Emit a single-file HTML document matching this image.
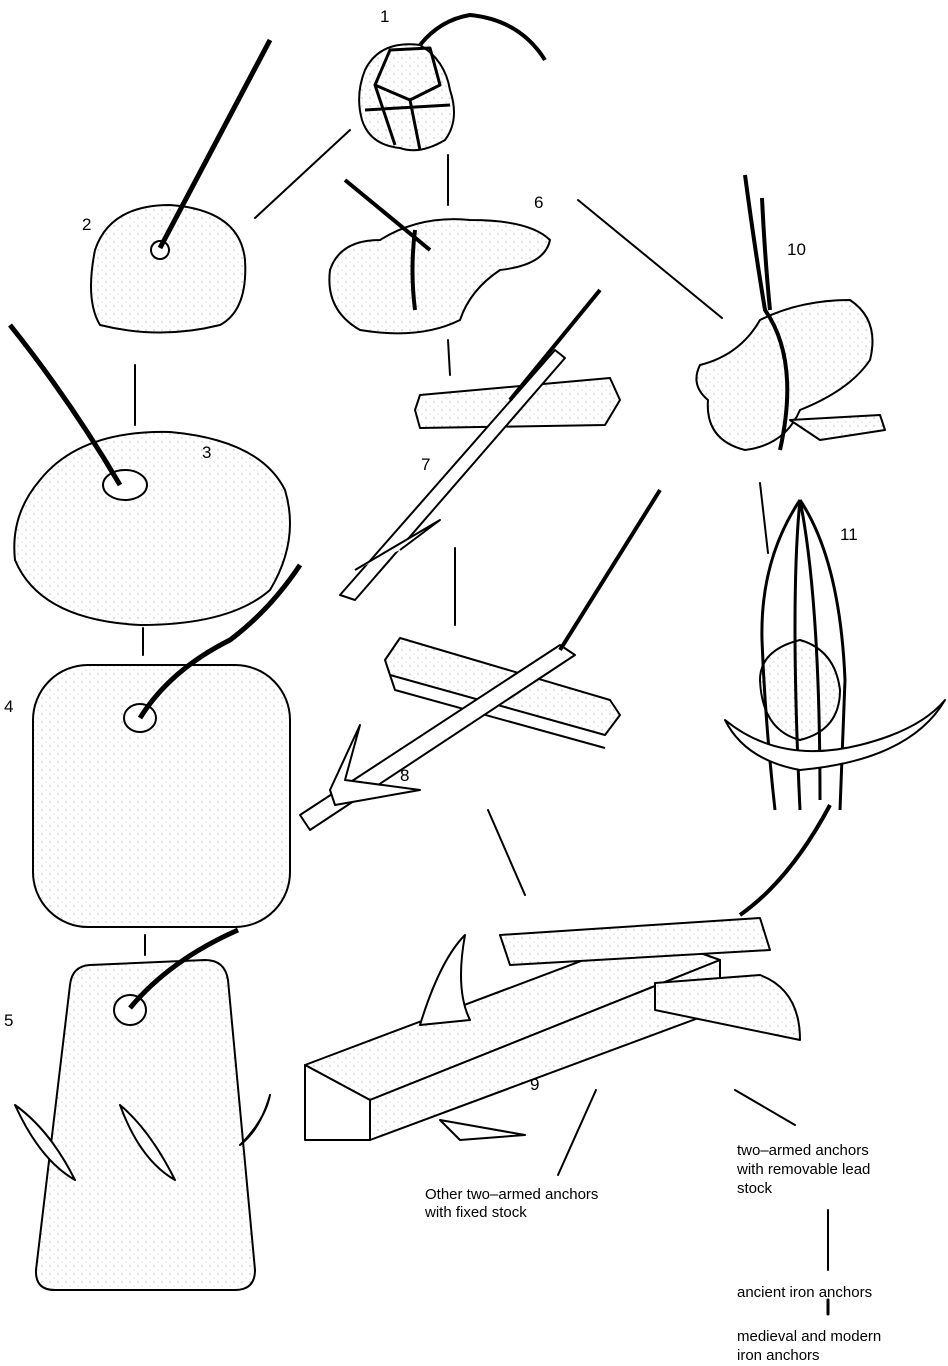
<!DOCTYPE html>
<html><head><meta charset="utf-8"><style>
html,body{margin:0;padding:0;background:#fff;}
svg{display:block;}
text{font-family:"Liberation Sans",sans-serif;fill:#000;}
</style></head><body>
<svg width="948" height="1366" viewBox="0 0 948 1366" xmlns="http://www.w3.org/2000/svg">
<defs>
<pattern id="st" width="8" height="8" patternUnits="userSpaceOnUse">
<rect width="8" height="8" fill="#fff"/><circle cx="2" cy="2" r="0.6" fill="#999"/><circle cx="6" cy="6" r="0.5" fill="#aaa"/>
</pattern>
</defs>
<g stroke="#000" stroke-width="2" fill="none" stroke-linecap="round">
<line x1="255" y1="218" x2="350" y2="130"/>
<line x1="448" y1="155" x2="448" y2="205"/>
<line x1="448" y1="340" x2="450" y2="375"/>
<line x1="135" y1="365" x2="135" y2="425"/>
<line x1="143" y1="628" x2="143" y2="655"/>
<line x1="145" y1="935" x2="145" y2="955"/>
<line x1="455" y1="548" x2="455" y2="625"/>
<line x1="488" y1="810" x2="525" y2="895"/>
<line x1="578" y1="200" x2="722" y2="318"/>
<line x1="760" y1="483" x2="768" y2="553"/>
<line x1="596" y1="1090" x2="558" y2="1175"/>
<line x1="735" y1="1090" x2="795" y2="1125"/>
<line x1="828" y1="1210" x2="828" y2="1270"/>
<line x1="828" y1="1300" x2="828" y2="1314" stroke-width="3"/>
</g>
<g stroke="#000" stroke-width="2" fill="url(#st)" stroke-linejoin="round">
<path d="M365 70 Q380 40 420 45 Q445 60 450 90 Q460 120 445 140 Q420 155 400 148 Q370 145 362 120 Q355 95 365 70Z"/>
<path d="M390 50 L430 48 L440 85 L410 100 L375 85Z M410 100 L420 150 M375 85 L395 145 M365 110 L450 105" fill="none" stroke-width="3"/>
<path d="M420 45 Q440 20 470 15 Q520 20 545 60" fill="none" stroke-width="4"/>
<path d="M95 250 Q110 205 170 205 Q240 210 245 260 Q248 310 220 325 Q160 340 100 325 Q85 300 95 250Z"/>
<circle cx="160" cy="250" r="9" fill="#fff"/>
<path d="M160 248 L270 40" stroke-width="5" fill="none"/>
<path d="M40 480 Q80 430 170 432 Q260 440 285 490 Q300 540 270 590 Q230 625 140 625 Q40 620 15 560 Q10 515 40 480Z"/>
<ellipse cx="125" cy="485" rx="22" ry="15" fill="#fff"/>
<path d="M120 485 Q70 400 10 325" stroke-width="5" fill="none"/>
<rect x="33" y="665" width="257" height="262" rx="55"/>
<ellipse cx="140" cy="718" rx="16" ry="14" fill="#fff"/>
<path d="M140 718 Q170 670 230 640 Q270 610 300 565" stroke-width="5" fill="none"/>
<path d="M90 965 L205 960 Q225 960 228 980 L255 1270 Q255 1290 235 1290 L55 1290 Q35 1290 36 1270 L70 985 Q72 966 90 965Z"/>
<ellipse cx="130" cy="1010" rx="16" ry="15" fill="#fff"/>
<path d="M130 1008 Q170 960 238 930" stroke-width="5" fill="none"/>
<path d="M15 1105 Q50 1130 75 1180 Q40 1160 15 1105Z" fill="#fff"/>
<path d="M120 1105 Q150 1130 175 1180 Q140 1160 120 1105Z" fill="#fff"/>
<path d="M240 1145 Q265 1120 270 1095 Q260 1130 240 1145Z" fill="#fff"/>
<path d="M330 270 Q340 240 380 240 Q420 215 470 220 Q530 220 550 240 Q545 265 500 270 Q470 290 460 320 Q420 340 360 330 Q325 310 330 270Z"/>
<path d="M345 180 L430 250 M415 230 Q410 270 415 310" stroke-width="4" fill="none"/>
<path d="M420 395 L610 378 L620 400 L605 425 L420 428 L415 410Z"/>
<path d="M340 595 L555 350 L565 358 L355 600Z" fill="#fff"/>
<path d="M355 570 L440 520 L400 550" fill="#fff"/>
<path d="M510 400 L600 290" stroke-width="4" fill="none"/>
<path d="M385 660 L400 638 L610 700 L620 715 L605 735 L390 675Z"/>
<path d="M390 675 L395 690 L605 748" fill="none"/>
<path d="M300 815 L560 645 L575 655 L310 830Z" fill="#fff"/>
<path d="M330 790 L360 725 L345 780 L420 790 L335 805Z" fill="#fff"/>
<path d="M560 650 L660 490" stroke-width="4" fill="none"/>
<path d="M305 1065 L650 935 L720 960 L370 1100Z" />
<path d="M305 1065 L305 1140 L370 1140 L370 1100Z" fill="#fff"/>
<path d="M370 1100 L370 1140 L720 1010 L720 960Z"/>
<path d="M500 935 L760 918 L770 950 L510 965Z"/>
<path d="M655 983 L760 975 Q800 990 800 1040 L655 1010Z"/>
<path d="M420 1025 Q440 960 465 935 Q455 990 470 1020Z" fill="#fff"/>
<path d="M440 1120 L525 1135 L460 1140Z" fill="#fff"/>
<path d="M740 915 Q790 880 830 805" stroke-width="4" fill="none"/>
<path d="M700 365 Q740 355 760 320 Q800 300 850 300 Q880 320 870 360 Q850 390 800 410 Q785 445 745 450 Q705 440 708 400 Q690 385 700 365Z"/>
<path d="M790 420 L880 415 L885 430 L820 440Z"/>
<path d="M745 175 Q755 250 765 310 Q800 360 780 450 M762 198 Q765 260 770 310" stroke-width="4" fill="none"/>
<path d="M760 680 Q760 650 800 640 Q835 650 840 690 Q840 730 800 740 Q762 730 760 680Z"/>
<path d="M800 500 Q760 560 762 640 Q765 720 775 810 M800 500 Q840 560 845 680 L840 810 M800 500 Q790 600 800 810 M800 500 Q820 600 820 800" fill="none" stroke-width="3"/>
<path d="M725 720 Q780 765 860 745 Q920 730 945 700 Q910 760 800 770 Q745 760 725 720Z" fill="#fff"/>
</g>
<g font-size="17">
<text x="380" y="22">1</text>
<text x="82" y="230">2</text>
<text x="202" y="458">3</text>
<text x="4" y="712">4</text>
<text x="4" y="1026">5</text>
<text x="534" y="208">6</text>
<text x="421" y="470">7</text>
<text x="400" y="781">8</text>
<text x="530" y="1090">9</text>
<text x="787" y="255">10</text>
<text x="840" y="540">11</text>
</g>
<g font-size="15">
<text x="425" y="1199">Other two–armed anchors</text>
<text x="425" y="1217">with fixed stock</text>
<text x="737" y="1155">two–armed anchors</text>
<text x="737" y="1174">with removable lead</text>
<text x="737" y="1193">stock</text>
<text x="737" y="1297">ancient iron anchors</text>
<text x="737" y="1341">medieval and modern</text>
<text x="737" y="1360">iron anchors</text>
</g>
</svg>
</body></html>
